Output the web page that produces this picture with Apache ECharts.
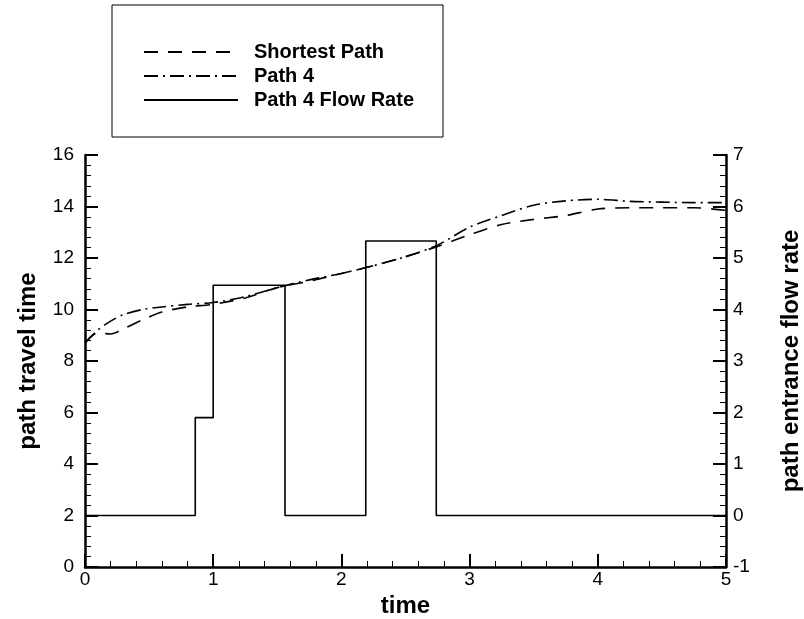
<!DOCTYPE html>
<html>
<head>
<meta charset="utf-8">
<script src="https://cdn.jsdelivr.net/npm/echarts@6/dist/echarts.min.js"></script>
<style>
  html, body { margin: 0; padding: 0; background: #fff; }
  #chart { width: 804px; height: 619px; }
</style>
</head>
<body>
<div id="chart"></div>
<script>
// time samples shared by the two travel-time curves
const times = [0, 0.1, 0.2, 0.3, 0.45, 0.6, 0.8, 1.0, 1.25, 1.5, 1.75, 2.0, 2.25, 2.5, 2.75, 3.0, 3.25, 3.5, 3.75, 4.0, 4.25, 4.5, 4.75, 5.0]
const shortestPath = [8.7, 9.1, 9.05, 9.25, 9.6, 9.9, 10.1, 10.2, 10.45, 10.85, 11.1, 11.4, 11.7, 12.05, 12.45, 12.9, 13.3, 13.5, 13.65, 13.9, 13.95, 13.95, 13.95, 13.85]
const path4 = [8.7, 9.2, 9.55, 9.8, 10.0, 10.1, 10.2, 10.27, 10.5, 10.85, 11.15, 11.4, 11.7, 12.05, 12.5, 13.2, 13.65, 14.05, 14.22, 14.28, 14.2, 14.17, 14.15, 14.15]

// flow rate steps (value holds until the next time)
const flowTimes = [0, 0.86, 1.0, 1.56, 2.19, 2.74, 5.0]
const flowRate = [0, 1.9, 4.47, 0, 5.33, 0, 0]

const seriesNames = ['Shortest Path', 'Path 4', 'Path 4 Flow Rate']

const chart = echarts.init(document.getElementById('chart'))
const font = 'Liberation Sans, Arial, sans-serif'

const axisCommon = {
  axisLine: { show: true, lineStyle: { color: '#000', width: 2.5 } },
  axisTick: { show: true, inside: true, length: 13, lineStyle: { color: '#000', width: 2 } },
  minorTick: { show: true, splitNumber: 5, length: 6, lineStyle: { color: '#000', width: 1 } },
  splitLine: { show: false },
  axisLabel: { color: '#000', fontSize: 19, fontFamily: font },
  nameTextStyle: { color: '#000', fontSize: 24, fontWeight: 'bold', fontFamily: font }
}

const option = {
  backgroundColor: '#fff',
  animation: false,
  grid: { left: 85, right: 78, top: 155, bottom: 52, containLabel: false, outerBoundsMode: 'none' },
  graphic: [{
    type: 'rect',
    shape: { x: 112, y: 5, width: 331, height: 132 },
    style: { fill: 'none', stroke: '#000', lineWidth: 1 }
  }],
  legend: {
    orient: 'vertical',
    left: 143,
    top: 42,
    padding: 0,
    itemWidth: 94,
    itemHeight: 14,
    itemGap: 4,
    data: seriesNames,
    itemStyle: { opacity: 0 },
    lineStyle: { opacity: 1 },
    textStyle: { color: '#000', fontSize: 20, lineHeight: 20, fontWeight: 'bold', fontFamily: font, padding: [0, 0, 0, 11] }
  },
  xAxis: {
    ...axisCommon,
    type: 'value',
    min: 0, max: 5, interval: 1,
    name: 'time',
    nameLocation: 'middle',
    nameGap: 24,
    axisLabel: { ...axisCommon.axisLabel, margin: 3 }
  },
  yAxis: [{
    ...axisCommon,
    type: 'value',
    position: 'left',
    min: 0, max: 16, interval: 2,
    name: 'path travel time',
    nameLocation: 'middle',
    nameGap: 45,
    axisLabel: { ...axisCommon.axisLabel, margin: 11 }
  }, {
    ...axisCommon,
    type: 'value',
    position: 'right',
    min: -1, max: 7, interval: 1,
    name: 'path entrance flow rate',
    nameLocation: 'middle',
    nameRotate: 90,
    nameGap: 53,
    axisLabel: { ...axisCommon.axisLabel, margin: 7 }
  }],
  series: [{
    name: seriesNames[0],
    type: 'line',
    yAxisIndex: 0,
    smooth: 0.3,
    showSymbol: false,
    symbol: 'none',
    lineStyle: { color: '#000', width: 1.6, type: [14, 10] },
    itemStyle: { color: '#000' },
    data: times.map((t, i) => [t, shortestPath[i]])
  }, {
    name: seriesNames[1],
    type: 'line',
    yAxisIndex: 0,
    smooth: 0.3,
    showSymbol: false,
    symbol: 'none',
    lineStyle: { color: '#000', width: 1.6, type: [14, 5, 2, 5] },
    itemStyle: { color: '#000' },
    data: times.map((t, i) => [t, path4[i]])
  }, {
    name: seriesNames[2],
    type: 'line',
    yAxisIndex: 1,
    step: 'end',
    showSymbol: false,
    symbol: 'none',
    lineStyle: { color: '#000', width: 1.6 },
    itemStyle: { color: '#000' },
    data: flowTimes.map((t, i) => [t, flowRate[i]])
  }]
}

chart.setOption(option)
</script>
</body>
</html>
